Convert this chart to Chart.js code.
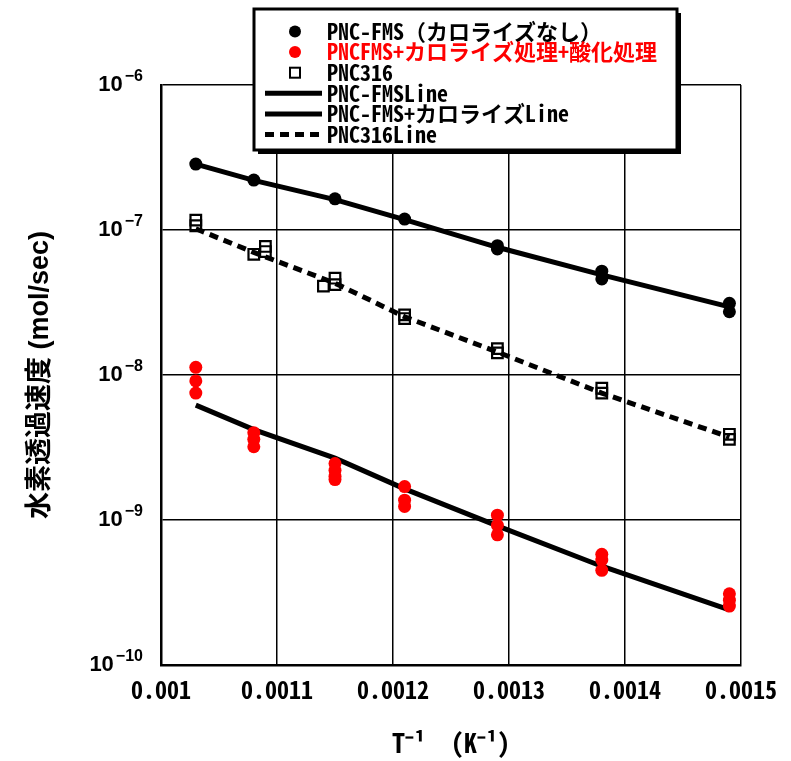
<!DOCTYPE html>
<html>
<head>
<meta charset="utf-8">
<script src="https://cdn.jsdelivr.net/npm/chart.js@4.4.1/dist/chart.umd.min.js"></script>
<style>
    html, body { margin: 0; padding: 0; background: #fff; }
</style>
</head>
<body>
<canvas id="grafica" width="791" height="761"></canvas>
<script>
// Datos (T^-1 en K^-1, velocidad en mol/sec)
const fmsX = [0.00103, 0.00108, 0.00115, 0.00121, 0.00129, 0.00129, 0.00138, 0.00138, 0.00149, 0.00149];
const fmsY = [2.85e-7, 2.21e-7, 1.64e-7, 1.19e-7, 7.8e-8, 7.4e-8, 5.2e-8, 4.6e-8, 3.12e-8, 2.73e-8];

const caloX = [0.00103, 0.00103, 0.00103, 0.00108, 0.00108, 0.00108, 0.00115, 0.00115, 0.00115, 0.00115,
               0.00121, 0.00121, 0.00121, 0.00129, 0.00129, 0.00129, 0.00138, 0.00138, 0.00138,
               0.00149, 0.00149, 0.00149];
const caloY = [1.13e-8, 9.1e-9, 7.5e-9, 4.0e-9, 3.6e-9, 3.2e-9, 2.45e-9, 2.2e-9, 2.0e-9, 1.9e-9,
               1.7e-9, 1.37e-9, 1.24e-9, 1.08e-9, 9.2e-10, 7.9e-10, 5.8e-10, 5.3e-10, 4.5e-10,
               3.1e-10, 2.8e-10, 2.55e-10];

const s316X = [0.00103, 0.00103, 0.00108, 0.00109, 0.00109, 0.00114, 0.00115, 0.00115,
               0.00121, 0.00121, 0.00129, 0.00129, 0.00138, 0.00138, 0.00149, 0.00149];
const s316Y = [1.17e-7, 1.07e-7, 6.8e-8, 7.7e-8, 7.1e-8, 4.1e-8, 4.65e-8, 4.2e-8,
               2.6e-8, 2.45e-8, 1.52e-8, 1.42e-8, 8.1e-9, 7.5e-9, 3.9e-9, 3.6e-9];

// Líneas de ajuste
const lineaX = [0.00103, 0.00108, 0.00115, 0.00121, 0.00129, 0.00138, 0.00149];
const fmsLinea = [2.85e-7, 2.2e-7, 1.62e-7, 1.18e-7, 7.6e-8, 4.9e-8, 2.95e-8];
const caloLinea = [6.2e-9, 4.2e-9, 2.67e-9, 1.64e-9, 9.1e-10, 4.8e-10, 2.4e-10];
const s316Linea = [1.02e-7, 7.0e-8, 4.3e-8, 2.52e-8, 1.44e-8, 7.5e-9, 3.73e-9];

// Marcas de los ejes
const ticksX = [0.001, 0.0011, 0.0012, 0.0013, 0.0014, 0.0015];
const ticksY = [1e-10, 1e-9, 1e-8, 1e-7, 1e-6];

const fuenteJP = "'Noto Sans Mono CJK JP', 'Noto Sans CJK JP', sans-serif";

function puntos(xs, ys) {
    return xs.map((x, i) => ({ x: x, y: ys[i] }));
}

function superindice(n) {
    const mapa = { '-': '⁻', '0': '⁰', '1': '¹', '2': '²', '3': '³', '4': '⁴', '5': '⁵', '6': '⁶', '7': '⁷', '8': '⁸', '9': '⁹' };
    return String(n).split('').map(c => mapa[c]).join('');
}

// Etiquetas del eje Y: 10 con exponente
const etiquetasY = {
    id: 'etiquetasY',
    afterDraw(chart) {
        const ctx = chart.ctx;
        const escala = chart.scales.y;
        ctx.save();
        ctx.fillStyle = '#000';
        ctx.textBaseline = 'middle';
        ticksY.forEach(v => {
            const y = escala.getPixelForValue(v);
            const exp = '−' + String(-Math.round(Math.log10(v)));
            ctx.font = "bold 16px 'Liberation Sans Narrow', 'Liberation Sans', sans-serif";
            ctx.textAlign = 'right';
            ctx.fillText(exp, 143, y - 8);
            const anchoExp = ctx.measureText(exp).width;
            ctx.font = "bold 22px 'Liberation Sans Narrow', 'Liberation Sans', sans-serif";
            ctx.fillText('10', 143 - anchoExp - 2, y);
        });
        ctx.restore();
    }
};

// Leyenda dibujada dentro del área del gráfico
const leyenda = {
    id: 'leyenda',
    afterDraw(chart) {
        const ctx = chart.ctx;
        const x0 = 254, y0 = 9, w = 423, h = 141;
        ctx.save();
        ctx.fillStyle = '#000';
        ctx.fillRect(x0 + 4, y0 + 4, w, h);
        ctx.fillStyle = '#fff';
        ctx.fillRect(x0, y0, w, h);
        ctx.lineWidth = 3;
        ctx.strokeStyle = '#000';
        ctx.strokeRect(x0, y0, w, h);

        chart.data.datasets.forEach((ds, i) => {
            const y = 31.5 + i * 20.6;
            if (ds.showLine) {
                ctx.beginPath();
                ctx.lineWidth = 5;
                ctx.strokeStyle = '#000';
                ctx.setLineDash(ds.borderDash || []);
                ctx.moveTo(265, y);
                ctx.lineTo(322, y);
                ctx.stroke();
                ctx.setLineDash([]);
            } else if (ds.pointStyle === 'rect') {
                ctx.lineWidth = 2;
                ctx.strokeStyle = '#000';
                ctx.strokeRect(290, y - 5, 10, 10);
            } else {
                ctx.beginPath();
                ctx.fillStyle = ds.backgroundColor;
                ctx.arc(295, y, 6, 0, Math.PI * 2);
                ctx.fill();
            }
            ctx.fillStyle = ds.colorLeyenda || '#000';
            ctx.font = 'bold 22px ' + fuenteJP;
            ctx.textAlign = 'left';
            ctx.textBaseline = 'middle';
            ctx.fillText(ds.label, 327, y);
        });
        ctx.restore();
    }
};

const ctx = document.getElementById('grafica').getContext('2d');
new Chart(ctx, {
    type: 'scatter',
    data: {
        datasets: [
            {
                label: 'PNC-FMS（カロライズなし）',
                data: puntos(fmsX, fmsY),
                pointStyle: 'circle',
                pointRadius: 6.5,
                backgroundColor: '#000',
                borderColor: '#000',
                borderWidth: 0,
                order: 0
            },
            {
                label: 'PNCFMS+カロライズ処理+酸化処理',
                data: puntos(caloX, caloY),
                pointStyle: 'circle',
                pointRadius: 6.5,
                backgroundColor: '#ff0000',
                borderColor: '#ff0000',
                borderWidth: 0,
                colorLeyenda: '#ff0000',
                order: 0
            },
            {
                label: 'PNC316',
                data: puntos(s316X, s316Y),
                pointStyle: 'rect',
                pointRadius: 7.5,
                backgroundColor: 'rgba(0,0,0,0)',
                borderColor: '#000',
                borderWidth: 2.2,
                order: 0
            },
            {
                label: 'PNC-FMSLine',
                data: puntos(lineaX, fmsLinea),
                showLine: true,
                borderColor: '#000',
                borderWidth: 5,
                pointRadius: 0,
                order: 1
            },
            {
                label: 'PNC-FMS+カロライズLine',
                data: puntos(lineaX, caloLinea),
                showLine: true,
                borderColor: '#000',
                borderWidth: 5,
                pointRadius: 0,
                order: 1
            },
            {
                label: 'PNC316Line',
                data: puntos(lineaX, s316Linea),
                showLine: true,
                borderColor: '#000',
                borderWidth: 5,
                borderDash: [9, 6],
                pointRadius: 0,
                order: 1
            }
        ]
    },
    options: {
        responsive: false,
        animation: false,
        layout: { padding: { left: 0, right: 50, top: 85, bottom: 0 } },
        plugins: {
            legend: { display: false },
            tooltip: { enabled: false }
        },
        scales: {
            x: {
                type: 'linear',
                min: 0.001,
                max: 0.0015,
                afterBuildTicks: (escala) => { escala.ticks = ticksX.map(v => ({ value: v })); },
                afterFit: (escala) => { escala.height = 96; },
                grid: { color: '#000', lineWidth: 1.5, drawTicks: false },
                border: { color: '#000', width: 2.5 },
                ticks: {
                    padding: 10,
                    color: '#000',
                    maxRotation: 0,
                    font: { family: fuenteJP, size: 24, weight: 'bold' },
                    callback: (v) => String(v)
                },
                title: {
                    display: true,
                    text: 'T' + superindice(-1) + '  (K' + superindice(-1) + ')',
                    color: '#000',
                    font: { family: fuenteJP, size: 26, weight: 'bold' },
                    padding: { top: 0, bottom: 2 }
                }
            },
            y: {
                type: 'logarithmic',
                min: 1e-10,
                max: 1e-6,
                afterBuildTicks: (escala) => { escala.ticks = ticksY.map(v => ({ value: v })); },
                afterFit: (escala) => { escala.width = 161; },
                grid: { color: '#000', lineWidth: 1.5, drawTicks: false },
                border: { color: '#000', width: 2.5 },
                ticks: { display: false },
                title: {
                    display: true,
                    text: '水素透過速度 (mol/sec)',
                    color: '#000',
                    font: { family: "'Liberation Sans', 'Noto Sans CJK JP', sans-serif", size: 27, weight: 'bold' },
                    padding: 24
                }
            }
        }
    },
    plugins: [etiquetasY, leyenda]
});
</script>
</body>
</html>
